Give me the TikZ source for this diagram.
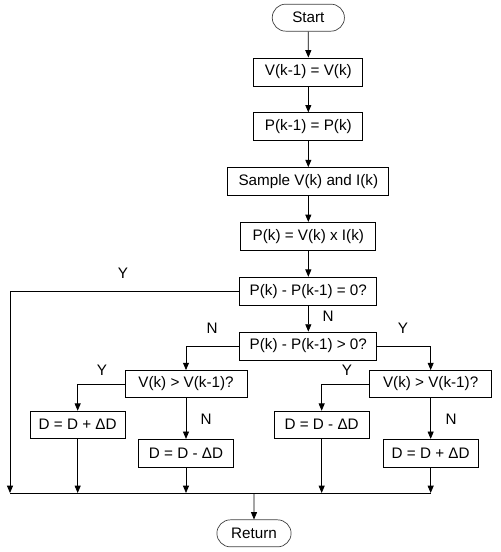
\documentclass[tikz,border=0pt]{standalone}
\usepackage{fontspec}
\setmainfont{Liberation Sans}
\usetikzlibrary{shapes.misc, arrows.meta, positioning}

\begin{document}
\begin{tikzpicture}[
      node distance=0.78cm, >={Triangle[length=2.2mm,width=1.8mm]},
      procbox/.style={rectangle, draw=black, line width=0.7pt, minimum height=0.84cm, inner xsep=0.1cm, font=\fontsize{13}{15}\selectfont},
      termbox/.style={rounded rectangle, draw=black!75, line width=0.6pt, minimum height=0.81cm, font=\fontsize{13}{15}\selectfont},
      lbl/.style={inner sep=1pt, font=\fontsize{13}{15}\selectfont},
      line/.style={draw, ->, line width=0.7pt}
    ]
      \useasboundingbox (0,0) rectangle (15,-16.56);
      % main column
      \node (start) [termbox, minimum width=2.4cm] at (9.25,-0.53) {Start};
      \node (v1) [procbox, minimum width=3.27cm, below=0.78cm of start] {V(k-1) = V(k)};
      \node (p1) [procbox, minimum width=3.27cm, below=of v1] {P(k-1) = P(k)};
      \node (smp) [procbox, minimum width=4.83cm, below=of p1] {Sample V(k) and I(k)};
      \node (pk) [procbox, minimum width=4.05cm, below=of smp] {P(k) = V(k) x I(k)};
      \node (dec0) [procbox, minimum width=4.11cm, below=of pk] {P(k) - P(k-1) = 0?};
      \node (dec1) [procbox, minimum width=4.11cm, below=of dec0] {P(k) - P(k-1) > 0?};
      % branches
      \node (cl) [procbox, minimum width=3.66cm, minimum height=0.81cm] at (5.58,-11.52) {V(k) > V(k-1)?};
      \node (cr) [procbox, minimum width=3.66cm, minimum height=0.81cm] at (12.92,-11.52) {V(k) > V(k-1)?};
      \node (la) [procbox, minimum width=2.85cm, minimum height=0.81cm] at (2.33,-12.74) {D = D + ΔD};
      \node (lb) [procbox, minimum width=2.85cm, below=1.23cm of cl] {D = D - ΔD};
      \node (ra) [procbox, minimum width=2.85cm, minimum height=0.81cm] at (9.65,-12.74) {D = D - ΔD};
      \node (rb) [procbox, minimum width=2.85cm, below=1.23cm of cr] {D = D + ΔD};
      \node (ret) [termbox, minimum width=2.46cm] at (7.62,-16.0) {Return};
      \coordinate (busl) at (0.3,-14.79);
      % labels
      \node (y0) [lbl] at (3.69,-8.2) {Y};
      \node (n0) [lbl] at (9.84,-9.48) {N};
      \node (n1) [lbl] at (6.36,-9.86) {N};
      \node (y1) [lbl] at (12.09,-9.86) {Y};
      \node (y2) [lbl] at (3.06,-11.1) {Y};
      \node (y3) [lbl] at (10.41,-11.1) {Y};
      \node (n2) [lbl] at (6.18,-12.57) {N};
      \node (n3) [lbl] at (13.53,-12.57) {N};

      \draw[line] (start) -- (v1);
      \draw[line] (v1) -- (p1);
      \draw[line] (p1) -- (smp);
      \draw[line] (smp) -- (pk);
      \draw[line] (pk) -- (dec0);
      \draw[line] (dec0) -- (dec1);
      \draw[line] (dec0.west) -| (busl);
      \draw[line] (dec1.west) -| (cl.north);
      \draw[line] (dec1.east) -| (cr.north);
      \draw[line] (cl.west) -| (la.north);
      \draw[line] (cl) -- (lb);
      \draw[line] (cr.west) -| (ra.north);
      \draw[line] (cr) -- (rb);
      \draw[line] (la) -- (la |- busl);
      \draw[line] (lb) -- (lb |- busl);
      \draw[line] (ra) -- (ra |- busl);
      \draw[line] (rb) -- (rb |- busl);
      \draw[line width=0.7pt] (busl) -- (rb |- busl);
      \draw[line] (ret |- busl) -- (ret);
    \end{tikzpicture}
\end{document}
